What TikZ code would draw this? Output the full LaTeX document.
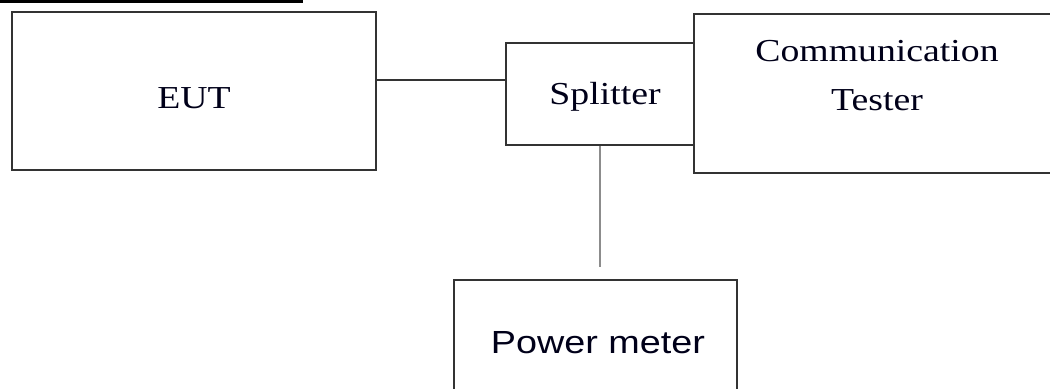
\documentclass[tikz,border=0pt]{standalone}
\usepackage{fontspec}
\setmainfont[FakeStretch=1.18]{Liberation Serif}
\newfontfamily\sansw[FakeStretch=1.18]{Liberation Sans}
\usetikzlibrary{positioning}
\tikzset{
  blocco/.style   = {rectangle, draw=black!80, line width=1.5pt, inner sep=0},
  filo/.style     = {draw=black!80, line width=1.5pt},
  filogrigio/.style = {draw=black!45, line width=1.5pt},
  et/.style       = {anchor=base, inner sep=0, text=black!90!blue, font=\fontsize{24}{29}\selectfont},
  etsans/.style   = {et, font=\fontsize{24}{29}\selectfont\sansw}
}

\begin{document}
\begin{tikzpicture}[x=0.75pt,y=-0.75pt]
  \useasboundingbox (0,0) rectangle (1050,389);
  \clip (0,0) rectangle (1050,389);
  \draw[line width=2.25pt] (0,1.5) -- (303,1.5);
  \node[blocco, minimum width=273pt,    minimum height=118.5pt]  (eut)      at (194,91)    {};
  \node[blocco, minimum width=274.5pt,  minimum height=119.25pt] (tester)   at (877,93.5)  {};
  \node[blocco, minimum width=141pt,    minimum height=76.5pt]   (splitter) at (600,94)    {};
  \node[blocco, minimum width=212.25pt, minimum height=94.5pt]   (pm)       at (595.5,343) {};
  \node[et]     (eutT)  at (194,108) {EUT};
  \node[et]     (splT)  at (605,104) {Splitter};
  \node[et]     (comT)  at (877,61)  {Communication};
  \node[et]     (tesT)  at (877,110) {Tester};
  \node[etsans] (pmT)   at (598,353) {Power meter};
  \draw[filo] ([yshift=8.25pt]eut.east) coordinate (p) -- (p -| splitter.west);
  \path (splitter.south |- pm.north) ++(0,-12) coordinate (q);
  \draw[filogrigio] (splitter.south) -- (q);
\end{tikzpicture}
\end{document}
